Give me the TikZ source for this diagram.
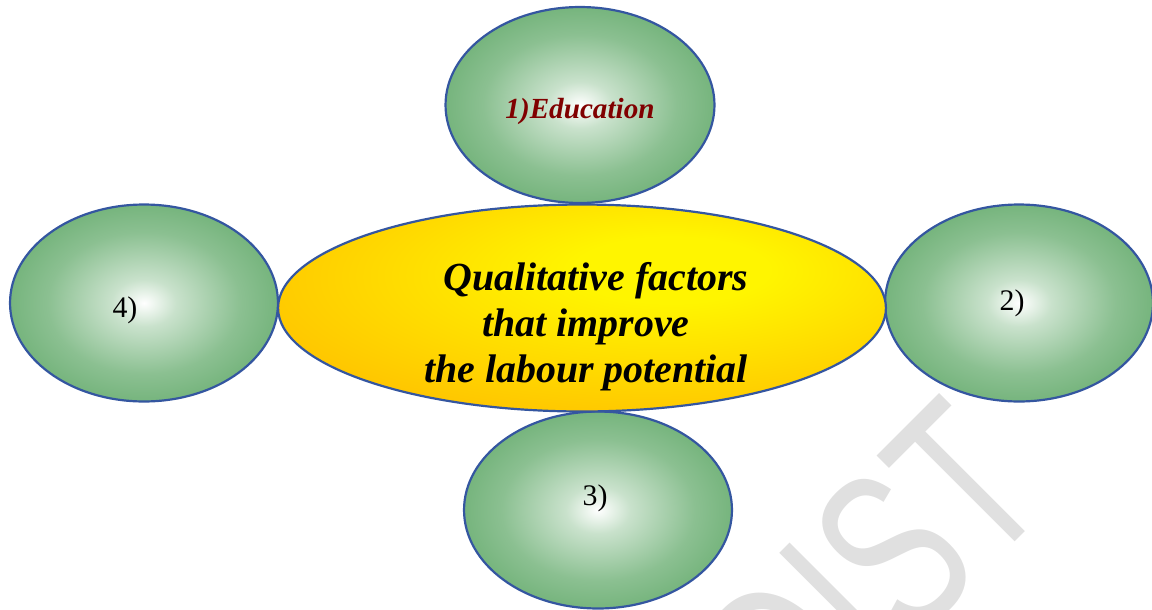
\documentclass[tikz,border=0pt]{standalone}
\usepackage{fontspec}
\setmainfont{Liberation Serif}
\newfontfamily\markfont{Liberation Sans}
\usetikzlibrary{shapes.geometric}
\definecolor{ovalgreen}{RGB}{62,150,72}
\definecolor{ovalblue}{RGB}{52,86,160}
\definecolor{sunyellow}{RGB}{255,245,0}
\definecolor{sunorange}{RGB}{255,190,0}
\definecolor{edured}{RGB}{128,0,0}
\pgfdeclareradialshading{greenglow}{\pgfpoint{0bp}{0bp}}{color(0bp)=(white); color(6bp)=(ovalgreen!28!white); color(18bp)=(ovalgreen!60!white); color(34bp)=(ovalgreen!85!white); color(48bp)=(ovalgreen); color(100bp)=(ovalgreen)}
\pgfdeclareradialshading{sunglow}{\pgfpoint{8bp}{10bp}}{color(0bp)=(sunyellow); color(8bp)=(sunyellow); color(38bp)=(sunorange); color(100bp)=(sunorange)}
\begin{document}
\begin{tikzpicture}[x=0.02cm,y=-0.02cm,
  oval/.style={ellipse,draw=ovalblue,line width=1.25pt,shading=greenglow,inner sep=0pt,minimum width=5.36cm,minimum height=3.94cm},
  bigoval/.style={ellipse,draw=ovalblue,line width=1.25pt,shading=sunglow,inner sep=0pt,minimum width=12.16cm,minimum height=4.14cm},
  num/.style={font=\fontsize{17}{20}\selectfont}]
  \useasboundingbox (0,0) rectangle (1152,609);
  \clip (0,0) rectangle (1152,609);
  %watermark
  \node[text=black!12,rotate=45,anchor=base east,inner sep=0pt,font=\markfont\fontsize{131}{131}\selectfont] (mark) at (1054,503) {\scalebox{0.68}[1]{DIST}};

  %ovals
  \node[oval,minimum width=5.38cm,minimum height=3.92cm,text height=0.64cm,text depth=0.12cm,text=edured,font=\bfseries\itshape\fontsize{16.6}{20}\selectfont] (edu) at (580,105) {1)Education};
  \foreach \n/\x/\y/\dx/\dy in {2/1019/303/-7/0, 3/598/510/-3/-12, 4/144/303/-19/7}
    \node[oval] (f\n) at (\x,\y) {} node[num] (t\n) at ([shift={(\dx,\dy)}]f\n.center) {\n)};

  %centre
  \node[bigoval] (core) at (582,308) {};
  \node[align=center,font=\bfseries\itshape\fontsize{22.7}{26.1}\selectfont] (coretext) at (586,327)
    {\hspace*{0.4cm}Qualitative factors\\ that improve\\ the labour potential};
\end{tikzpicture}
\end{document}
